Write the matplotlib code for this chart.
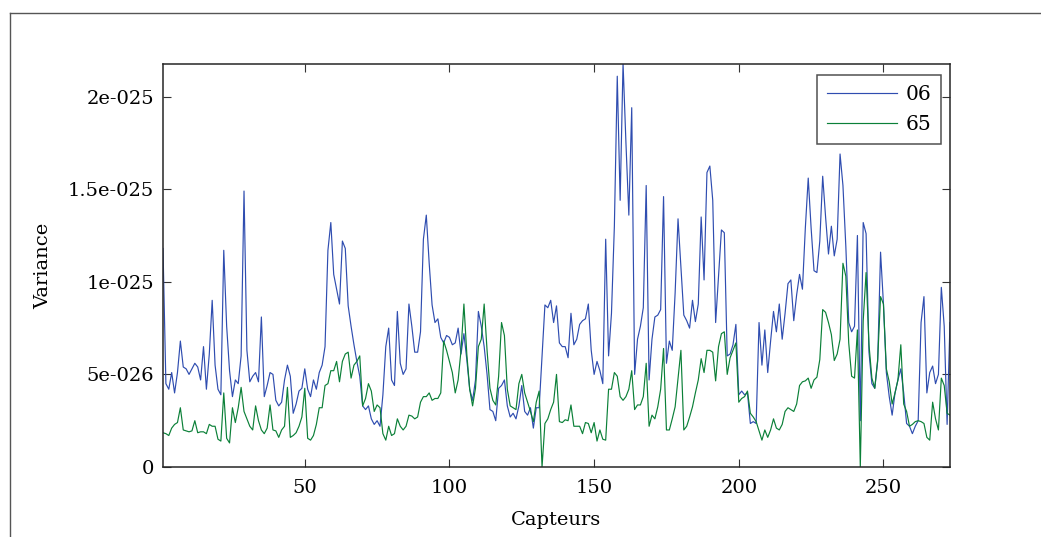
import matplotlib
matplotlib.use("Agg")
import matplotlib.pyplot as plt
from matplotlib.lines import Line2D
import numpy as np

# values in units of 1e-26
series_06 = [
    11.8, 4.5, 4.2, 5.1, 4.0, 5.1, 6.8, 5.4, 5.3, 5.0,
    5.3, 5.6, 5.4, 4.7, 6.5, 4.2, 6.1, 9.0, 5.5, 4.2,
    3.9, 11.7, 7.6, 5.2, 3.8, 4.7, 4.5, 6.0, 14.9, 6.3,
    4.6, 4.9, 5.1, 4.6, 8.1, 3.8, 4.4, 5.1, 5.0, 3.6,
    3.3, 3.5, 4.7, 5.5, 4.9, 2.9, 3.4, 4.1, 4.25, 5.3,
    4.2, 3.8, 4.7, 4.2, 5.1, 5.5, 6.5, 11.7, 13.2, 10.4,
    9.6, 8.8, 12.2, 11.8, 8.7, 7.6, 6.6, 5.7, 4.9, 3.3,
    3.1, 3.3, 2.6, 2.3, 2.5, 2.2, 3.9, 6.5, 7.5, 4.7,
    4.4, 8.4, 5.6, 5.0, 5.3, 8.8, 7.6, 6.2, 6.2, 7.3,
    12.3, 13.6, 11.0, 8.75, 7.8, 8.0, 7.0, 6.7, 7.1, 7.0,
    6.6, 6.7, 7.5, 6.1, 7.2, 5.8, 4.2, 3.6, 4.7, 8.4,
    7.6, 6.5, 5.0, 3.1, 3.0, 2.5, 4.25, 4.4, 4.7, 3.3,
    2.7, 2.9, 2.6, 3.3, 4.4, 3.0, 2.8, 3.2, 2.1, 3.2,
    3.2, 6.0, 8.75, 8.6, 9.0, 7.8, 8.7, 6.7, 6.5, 6.5,
    5.9, 8.3, 6.6, 6.9, 7.7, 7.9, 8.0, 8.8, 6.3, 5.0,
    5.7, 5.2, 4.5, 12.3, 6.0, 8.3, 13.0, 21.1, 14.4, 21.8,
    17.5, 13.6, 19.4, 5.0, 6.9, 7.6, 8.6, 15.2, 4.7, 6.9,
    8.1, 8.2, 8.5, 14.6, 5.6, 6.8, 6.3, 9.4, 13.4, 10.8,
    8.2, 7.9, 7.5, 9.0, 7.85, 8.8, 13.5, 10.1, 15.9, 16.25,
    14.4, 7.8, 10.3, 12.8, 12.65, 6.0, 6.1, 6.6, 7.7, 3.9,
    4.1, 3.9, 4.0, 2.35, 2.45, 2.35, 7.8, 5.5, 7.4, 5.1,
    6.8, 8.4, 7.3, 8.8, 6.9, 8.3, 9.9, 10.1, 7.9, 9.3,
    10.4, 9.6, 12.9, 15.6, 12.9, 10.6, 10.5, 12.2, 15.7, 13.5,
    11.5, 13.0, 11.4, 12.3, 16.9, 15.2, 11.9, 7.8, 7.3, 7.6,
    12.5, 2.5, 13.2, 12.6, 6.2, 4.5, 4.25, 5.7, 11.6, 8.8,
    5.1, 3.8, 2.8, 4.0, 4.7, 5.3, 4.0, 2.35, 2.2, 1.8,
    2.2, 2.5, 7.8, 9.2, 4.0, 5.1, 5.45, 4.5, 5.0, 9.7,
    7.6, 2.3, 7.8,
]

series_65 = [
    1.85, 1.8, 1.7, 2.1, 2.3, 2.4, 3.2, 2.0, 1.95, 1.9,
    1.95, 2.5, 1.85, 1.9, 1.9, 1.8, 2.3, 2.2, 2.2, 1.5,
    1.4, 4.0, 1.55, 1.3, 3.2, 2.4, 3.2, 4.3, 3.0, 2.6,
    2.2, 2.0, 3.3, 2.5, 2.0, 1.8, 2.1, 3.35, 2.0, 1.95,
    1.6, 2.0, 2.2, 4.3, 1.6, 1.7, 1.85, 2.2, 2.7, 4.25,
    1.55, 1.45, 1.7, 2.3, 3.2, 3.2, 4.4, 4.5, 5.2, 5.2,
    5.7, 4.6, 5.7, 6.1, 6.2, 4.8, 5.5, 5.7, 6.0, 3.3,
    3.7, 4.5, 4.1, 3.0, 3.35, 3.2, 1.8, 1.45, 2.2, 1.7,
    1.8, 2.6, 2.2, 2.0, 2.2, 2.8, 2.75, 2.6, 2.7, 3.5,
    3.8, 3.8, 4.0, 3.6, 3.7, 3.7, 4.0, 6.8, 6.3, 5.7,
    5.1, 4.0, 4.7, 6.3, 8.8, 6.1, 4.2, 3.3, 4.25, 6.5,
    6.9, 8.8, 6.3, 4.25, 3.6, 3.35, 4.9, 7.8, 7.1, 4.2,
    3.3, 3.2, 3.1, 4.5, 5.0, 4.0, 3.5, 3.0, 2.45, 3.5,
    4.1, 0.0, 2.35, 2.6, 3.1, 3.5, 5.0, 2.45, 2.4, 2.55,
    2.5, 3.35, 2.2, 2.2, 2.2, 1.8, 2.4, 2.35, 1.85, 2.4,
    1.4, 2.0, 1.5, 1.45, 4.2, 4.2, 5.1, 4.9, 3.8, 3.6,
    3.8, 4.2, 5.2, 3.1, 3.35, 3.35, 3.8, 5.6, 2.2, 2.8,
    2.6, 3.25, 4.2, 6.4, 2.0, 2.0, 2.6, 3.25, 4.8, 6.3,
    2.0, 2.2, 2.7, 3.25, 4.0, 4.7, 5.85, 5.1, 6.3, 6.3,
    6.2, 4.65, 6.5, 7.2, 7.3, 5.0, 5.9, 6.3, 6.7, 3.5,
    3.7, 3.8, 4.1, 2.9, 2.7, 2.45, 1.95, 1.45, 2.0, 1.6,
    2.0, 2.6, 2.1, 2.0, 2.3, 3.0, 3.2, 3.1, 3.0, 3.4,
    4.4, 4.6, 4.65, 4.8, 4.25, 4.7, 4.85, 5.8, 8.5, 8.35,
    7.8, 7.15, 5.75, 6.1, 6.9, 11.0, 10.3, 6.7, 4.9, 4.8,
    7.4, 0.0, 7.9, 10.5, 6.6, 4.8, 4.25, 5.8, 9.2, 8.8,
    5.3, 4.6, 3.4, 4.0, 4.7, 6.6, 3.4, 3.0, 2.2, 2.3,
    2.45, 2.5, 2.45, 2.35, 1.6, 1.45, 3.5, 2.6, 2.0, 4.8,
    4.4, 2.9, 2.8,
]

scale = 1e-26
series_names = ["06", "65"]
x_ticks = [50, 100, 150, 200, 250]
y_ticks = [0, 5e-26, 1e-25, 1.5e-25, 2e-25]
y_tick_labels = ["0", "5e-026", "1e-025", "1.5e-025", "2e-025"]

capteurs = np.arange(1, len(series_06) + 1)
v06 = np.array(series_06) * scale
v65 = np.array(series_65) * scale

plt.rcParams['font.family'] = ['DejaVu Serif']

fig = plt.figure(figsize=(10.41, 5.37), dpi=100)
ax = fig.add_axes([163 / 1041, 1 - 467 / 537, (950 - 163) / 1041, (467 - 64) / 537])

ax.plot(capteurs, v06, color='#2f4db0', lw=0.85, label=series_names[0])
ax.plot(capteurs, v65, color='#0b8038', lw=0.85, label=series_names[1])

ax.set_xlim(1, len(series_06))
ax.set_ylim(0, 2.176e-25)
ax.set_xticks(x_ticks)
ax.set_yticks(y_ticks)
ax.set_yticklabels(y_tick_labels)
ax.tick_params(direction='in', length=6, width=0.8, top=True, right=True,
               labelsize=14, colors='#333333', labelcolor='black', pad=6.5)
ax.tick_params(axis='x', pad=8.5)
for s in ax.spines.values():
    s.set_linewidth(1.1)
    s.set_color('#262626')

ax.set_xlabel("Capteurs", fontsize=14, labelpad=10)
ax.set_ylabel("Variance", fontsize=14, labelpad=11)

leg = ax.legend(loc='upper right', fontsize=14.5, frameon=True, fancybox=False,
                bbox_to_anchor=(0.9886, 0.9727), borderaxespad=0,
                handlelength=3.5, handletextpad=0.4, borderpad=0.5,
                labelspacing=0.55)
leg.get_frame().set_edgecolor('#262626')
leg.get_frame().set_linewidth(1.1)

# page border lines
fig.add_artist(Line2D([9.5 / 1041, 9.5 / 1041], [0, 1 - 12.5 / 537],
                      transform=fig.transFigure, color='#555555', lw=1))
fig.add_artist(Line2D([9.5 / 1041, 1], [1 - 12.5 / 537, 1 - 12.5 / 537],
                      transform=fig.transFigure, color='#555555', lw=1))

fig.savefig("out.png", dpi=100)
